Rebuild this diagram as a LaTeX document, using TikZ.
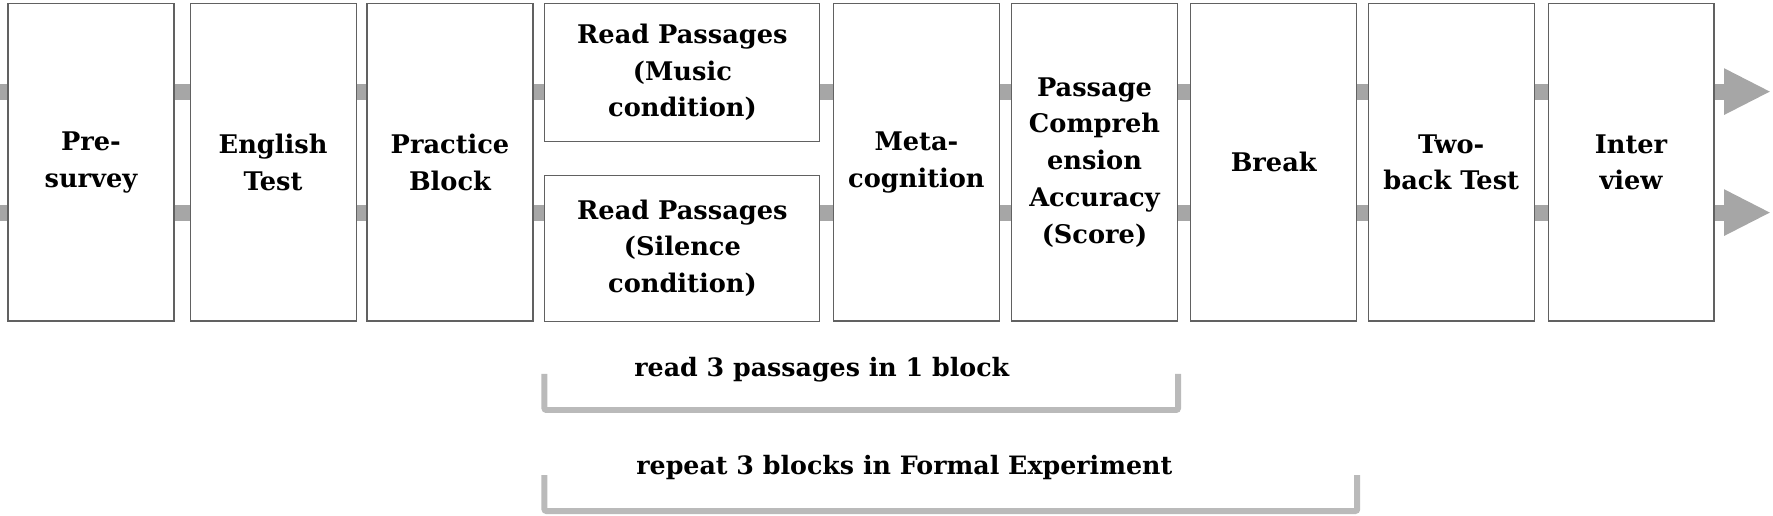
\documentclass[tikz,border=0pt]{standalone}
\usepackage{fontspec}
\setmainfont{DejaVu Serif}
\usetikzlibrary{arrows.meta}

\tikzset{
  stage/.style={draw=black!62, line width=0.6pt, fill=white, align=center,
    minimum width=3.32cm, minimum height=6.35cm, inner sep=1pt,
    font=\fontsize{14.6}{20.9}\selectfont\bfseries},
  half/.style={stage, minimum width=5.5cm},
  bar/.style={draw=black!35, line width=0.32cm},
  brace/.style={draw=black!27, line width=0.12cm, rounded corners=0.04cm},
  note/.style={anchor=west, inner sep=0pt, font=\fontsize{14.4}{20.9}\selectfont\bfseries}
}

\begin{document}
\begin{tikzpicture}[x=0.02cm, y=-0.02cm]
   \useasboundingbox (0,0) rectangle (1773,516);
   \coordinate (top) at (0,91.6);
   \coordinate (bot) at (0,212.6);
   \coordinate (endtop) at (1771,91.6);
   \coordinate (endbot) at (1771,212.6);

   % stages
   \node[stage] (pre)   at (91,162.3)    {Pre-\\survey};
   \node[stage] (eng)   at (273.1,162.3) {English\\Test};
   \node[stage] (prac)  at (450,162.3)   {Practice\\Block};
   \node[half, minimum height=2.76cm] (music)   at (682.4,72.3)  {Read Passages\\(Music\\condition)};
   \node[half, minimum height=2.92cm] (silence) at (682.4,248.2) {Read Passages\\(Silence\\condition)};
   \node[stage] (meta)  at (916.4,162.3)  {Meta-\\cognition};
   \node[stage] (score) at (1094.5,162.3) {Passage\\Compreh\\ension\\Accuracy\\(Score)};
   \node[stage] (brk)   at (1273.7,162.3) {Break};
   \node[stage] (two)   at (1451.2,162.3) {Two-\\back Test};
   \node[stage] (inter) at (1631,162.3)   {Inter\\view};

   % bars between the stages
   \draw[bar] (top) -- (pre.west |- top);
   \draw[bar] (bot) -- (pre.west |- bot);
   \foreach \a/\b in {pre/eng, eng/prac, meta/score, score/brk, brk/two, two/inter} {
     \draw[bar] (\a.east |- top) -- (\b.west |- top);
     \draw[bar] (\a.east |- bot) -- (\b.west |- bot);
   }
   \draw[bar] (prac.east |- top) -- (music.west |- top);
   \draw[bar] (prac.east |- bot) -- (silence.west |- bot);
   \draw[bar] (music.east |- top) -- (meta.west |- top);
   \draw[bar] (silence.east |- bot) -- (meta.west |- bot);
   \draw[bar, -{Triangle[length=0.94cm, width=0.86cm]}] (inter.east |- top) -- (endtop);
   \draw[bar, -{Triangle[length=0.94cm, width=0.86cm]}] (inter.east |- bot) -- (endbot);

   % brackets
   \draw[brace] (silence.west |- 0,374) -- (silence.west |- 0,410) -- (score.east |- 0,410) -- (score.east |- 0,374);
   \node[note] (block) at (634,370) {read 3 passages in 1 block};
   \draw[brace] (silence.west |- 0,475) -- (silence.west |- 0,511) -- (brk.east |- 0,511) -- (brk.east |- 0,475);
   \node[note] (formal) at (636,468) {repeat 3 blocks in Formal Experiment};
\end{tikzpicture}
\end{document}
